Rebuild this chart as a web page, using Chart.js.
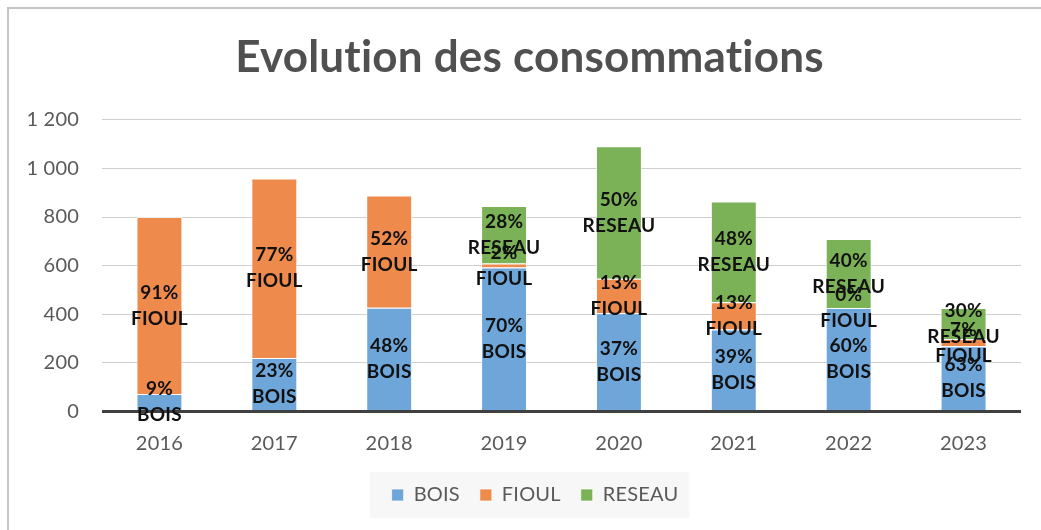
<!DOCTYPE html>
<html>
<head>
<meta charset="utf-8">
<script src="https://cdn.jsdelivr.net/npm/chart.js@4/dist/chart.umd.min.js"></script>
<style>
  html, body { margin: 0; padding: 0; background: #fff; }
  #wrap { position: relative; width: 1041px; height: 530px; }
  #frame { position: absolute; left: 7px; top: 7px; right: -10px; bottom: -10px; border: 2px solid #c4c4c4; pointer-events: none; }
</style>
</head>
<body>
<div id="wrap">
  <canvas id="chart" width="1041" height="530"></canvas>
  <div id="frame"></div>
</div>
<script>
/* Evolution des consommations — stacked bars with % + name labels */

const years  = ['2016', '2017', '2018', '2019', '2020', '2021', '2022', '2023'];
const bois   = [72, 220, 427, 592, 404, 337, 426, 268];
const fioul  = [728, 739, 462, 17, 142, 112, 0, 30];
const reseau = [0, 0, 0, 236, 545, 415, 284, 128];
const yTicks = [0, 200, 400, 600, 800, 1000, 1200];

const FONT = 'Lato, "Open Sans", sans-serif';
const GREY = '#595959';

const totals = years.map((_, i) => bois[i] + fioul[i] + reseau[i]);

function fmt(v) {
  return String(v).replace(/\B(?=(\d{3})+(?!\d))/g, ' ');
}

/* labels "xx%" / NAME centred in each segment */
const segmentLabels = {
  id: 'segmentLabels',
  afterDraw(chart) {
    const ctx = chart.ctx;
    ctx.save();
    ctx.font = 'bold 19px ' + FONT;
    ctx.fillStyle = '#111';
    ctx.textAlign = 'center';
    ctx.textBaseline = 'middle';
    chart.data.datasets.forEach((ds, di) => {
      const meta = chart.getDatasetMeta(di);
      meta.data.forEach((bar, i) => {
        const v = ds.data[i];
        if (!totals[i]) return;
        if (di === 2 && !v) return;
        if (di === 1 && !v && !reseau[i]) return;
        const pct = Math.round(v / totals[i] * 100) + '%';
        const cy = (bar.y + bar.base) / 2;
        ctx.fillText(pct, bar.x, cy - 13);
        ctx.fillText(ds.label, bar.x, cy + 13);
      });
    });
    ctx.restore();
  }
};

/* nudge title / legend to where the original puts them, light box behind the legend */
const legendBox = {
  id: 'legendBox',
  afterUpdate(chart) {
    const lg = chart.legend;
    const boxes = lg.legendHitBoxes;
    if (!boxes || !boxes.length) return;
    const first = boxes[0], last = boxes[boxes.length - 1];
    const dx = 533.5 - (first.left + last.left + last.width) / 2;
    const dy = 495 - (first.top + first.height / 2);
    lg.left += dx; lg.right += dx; lg.top += dy; lg.bottom += dy;
    boxes.forEach(b => { b.left += dx; b.top += dy; });
    if (chart.titleBlock) { chart.titleBlock.left += 19; chart.titleBlock.right += 19; }
  },
  beforeDraw(chart) {
    chart.ctx.letterSpacing = '0.2px';
    const boxes = chart.legend.legendHitBoxes;
    if (!boxes || !boxes.length) return;
    const first = boxes[0], last = boxes[boxes.length - 1];
    const cy = first.top + first.height / 2;
    const ctx = chart.ctx;
    ctx.save();
    ctx.fillStyle = '#f7f7f7';
    ctx.fillRect(first.left - 22, cy - 23, last.left + last.width - first.left + 36, 46);
    ctx.restore();
  }
};

new Chart(document.getElementById('chart'), {
  type: 'bar',
  data: {
    labels: years,
    datasets: [
      { label: 'BOIS',   data: bois,   backgroundColor: '#6ea6da' },
      { label: 'FIOUL',  data: fioul,  backgroundColor: '#ee8b4c' },
      { label: 'RESEAU', data: reseau, backgroundColor: '#7cb257' },
    ].map(d => Object.assign(d, {
      borderColor: 'rgba(255,255,255,0.7)',
      borderWidth: 1,
      categoryPercentage: 1,
      barPercentage: 0.4,
    })),
  },
  options: {
    responsive: false,
    animation: false,
    layout: { padding: { left: 0, right: 20, top: 0, bottom: 12.5 } },
    plugins: {
      title: {
        display: true,
        text: 'Evolution des consommations',
        color: '#505050',
        font: { family: FONT, size: 44, weight: 'bold', lineHeight: 1.2 },
        padding: { top: 31, bottom: 36 },
      },
      legend: {
        position: 'bottom',
        labels: {
          color: GREY,
          font: { family: FONT, size: 20 },
          boxWidth: 12,
          boxHeight: 12,
          padding: 20,
        },
      },
      tooltip: { enabled: false },
    },
    scales: {
      x: {
        stacked: true,
        grid: { display: false },
        border: { display: false },
        ticks: { color: GREY, font: { family: FONT, size: 20 }, padding: 12 },
      },
      y: {
        stacked: true,
        min: 0,
        max: 1200,
        afterFit: s => { s.width = 102; },
        afterBuildTicks: s => { s.ticks = yTicks.map(v => ({ value: v })); },
        border: { display: false },
        grid: {
          drawTicks: false,
          color: c => c.tick && c.tick.value === 0 ? '#404040' : '#cfcfcf',
          lineWidth: c => c.tick && c.tick.value === 0 ? 3 : 1,
        },
        ticks: {
          color: GREY,
          font: { family: FONT, size: 20 },
          padding: 23,
          callback: v => fmt(v),
        },
      },
    },
  },
  plugins: [legendBox, segmentLabels],
});
</script>
</body>
</html>
